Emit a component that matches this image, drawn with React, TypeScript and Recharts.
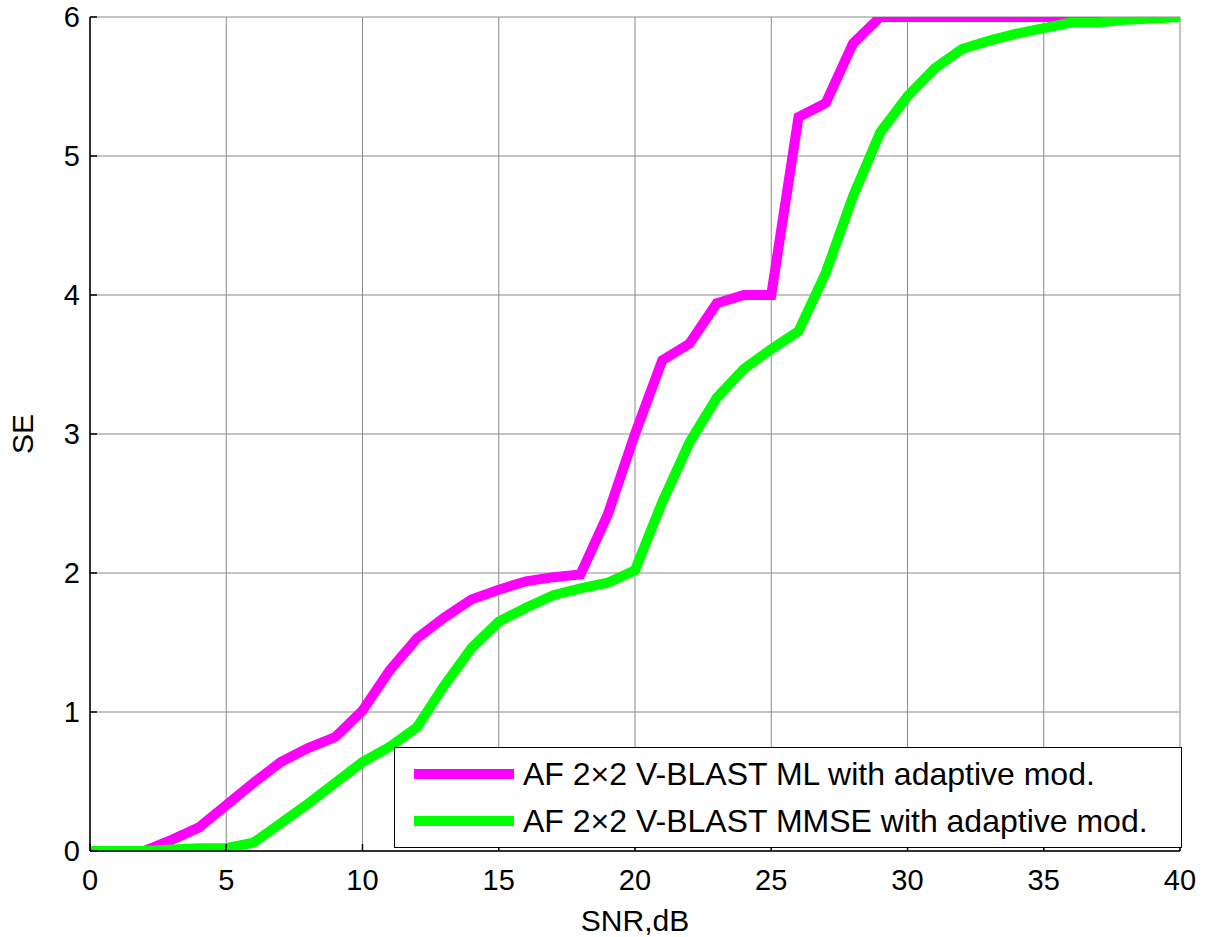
import { LineChart, Line, XAxis, YAxis, CartesianGrid } from 'recharts';

const snr = [
  0, 1, 2, 3, 4, 5, 6, 7, 8, 9, 10, 11, 12, 13, 14, 15, 16, 17, 18, 19, 20,
  21, 22, 23, 24, 25, 26, 27, 28, 29, 30, 31, 32, 33, 34, 35, 36, 37, 38, 39, 40,
];
const seML = [
  0, 0, 0, 0.08, 0.17, 0.33, 0.49, 0.64, 0.74, 0.82, 1.01, 1.3, 1.53, 1.68, 1.81, 1.88, 1.94, 1.97, 1.99, 2.42, 3.0,
  3.53, 3.65, 3.94, 4.0, 4.0, 5.28, 5.38, 5.81, 6, 6, 6, 6, 6, 6, 6, 6, 6, 6, 6, 6,
];
const seMMSE = [
  0, 0, 0, 0.01, 0.02, 0.02, 0.06, 0.2, 0.34, 0.49, 0.64, 0.75, 0.89, 1.19, 1.46, 1.65, 1.75, 1.84, 1.89, 1.93, 2.02,
  2.51, 2.94, 3.26, 3.47, 3.61, 3.74, 4.16, 4.71, 5.17, 5.43, 5.63, 5.77, 5.83, 5.88, 5.92, 5.96, 5.96, 5.98, 5.99, 6,
];
const xTicks = [0, 5, 10, 15, 20, 25, 30, 35, 40];
const yTicks = [0, 1, 2, 3, 4, 5, 6];
const seriesNames = [
  'AF 2×2 V-BLAST ML with adaptive mod.',
  'AF 2×2 V-BLAST MMSE with adaptive mod.',
];
const colors = ['#ff00ff', '#00ff00'];

const rows = snr.map((x, i) => ({ snr: x, ml: seML[i], mmse: seMMSE[i] }));

const font = '"Liberation Sans", Arial, sans-serif';
const labelStyle = { fontSize: 30, fill: '#000', fontFamily: font };
const tickText = { fontSize: '29px', fontFamily: font, fill: '#000' };
const axisLine = { stroke: '#000', strokeWidth: 1.5 };
const TICK = 7;

// matlab-style ticks: small mark inside the box, label outside
function BottomTick(props: any) {
  const { x, y, payload } = props;
  return (
    <g>
      <line x1={x} x2={x} y1={y} y2={y - TICK} stroke="#000" strokeWidth={1.5} />
      <text x={x} y={y + 39} textAnchor="middle" style={tickText}>
        {payload.value}
      </text>
    </g>
  );
}

function LeftTick(props: any) {
  const { x, y, payload } = props;
  return (
    <g>
      <line x1={x} x2={x + TICK} y1={y} y2={y} stroke="#000" strokeWidth={1.5} />
      <text x={x - 10} y={y + 10} textAnchor="end" style={tickText}>
        {payload.value}
      </text>
    </g>
  );
}

function TopTick(props: any) {
  const { x, y } = props;
  return <line x1={x} x2={x} y1={y} y2={y + TICK} stroke="#000" strokeWidth={1.5} />;
}

function RightTick(props: any) {
  const { x, y } = props;
  return <line x1={x} x2={x - TICK} y1={y} y2={y} stroke="#000" strokeWidth={1.5} />;
}

export default function App() {
  return (
    <div style={{ position: 'absolute', left: 0, top: 0, width: 1210, height: 937, background: '#fff' }}>
      <LineChart
        width={1210}
        height={937}
        data={rows}
        margin={{ top: 17, right: 30, bottom: 46, left: 30 }}
      >
        <CartesianGrid stroke="#8a8a8a" strokeWidth={1} />
        <XAxis
          dataKey="snr"
          type="number"
          domain={[0, 40]}
          ticks={xTicks}
          height={40}
          tickSize={0}
          tickMargin={0}
          tick={(p: any) => <BottomTick {...p} />}
          axisLine={axisLine}
          tickLine={false}
          label={{ value: 'SNR,dB', position: 'bottom', offset: 19, style: labelStyle }}
        />
        <XAxis
          xAxisId="top"
          orientation="top"
          dataKey="snr"
          type="number"
          domain={[0, 40]}
          ticks={xTicks}
          height={0}
          tickSize={0}
          tickMargin={0}
          tick={(p: any) => <TopTick {...p} />}
          axisLine={axisLine}
          tickLine={false}
        />
        <YAxis
          type="number"
          domain={[0, 6]}
          ticks={yTicks}
          width={60}
          allowDataOverflow
          tickSize={0}
          tickMargin={0}
          tick={(p: any) => <LeftTick {...p} />}
          axisLine={axisLine}
          tickLine={false}
          label={{ value: 'SE', angle: -90, position: 'insideLeft', offset: -8, style: { ...labelStyle, textAnchor: 'middle' } }}
        />
        <YAxis
          yAxisId="right"
          orientation="right"
          type="number"
          domain={[0, 6]}
          ticks={yTicks}
          width={0}
          tickSize={0}
          tickMargin={0}
          tick={(p: any) => <RightTick {...p} />}
          axisLine={axisLine}
          tickLine={false}
        />
        <Line
          dataKey="ml"
          name={seriesNames[0]}
          stroke={colors[0]}
          strokeWidth={10}
          dot={false}
          isAnimationActive={false}
        />
        <Line
          dataKey="mmse"
          name={seriesNames[1]}
          stroke={colors[1]}
          strokeWidth={10}
          dot={false}
          isAnimationActive={false}
        />
      </LineChart>
      <div
        style={{
          position: 'absolute',
          left: 394,
          top: 747,
          width: 786,
          height: 99,
          border: '1.5px solid #000',
          background: '#fff',
          fontFamily: font,
          fontSize: 32,
          color: '#000',
        }}
      >
        {seriesNames.map((name, i) => (
          <div
            key={name}
            style={{ position: 'absolute', left: 0, top: 7 + i * 47, height: 38, display: 'flex', alignItems: 'center', whiteSpace: 'nowrap' }}
          >
            <span style={{ display: 'inline-block', marginLeft: 19, width: 100, height: 10, background: colors[i] }} />
            <span style={{ marginLeft: 9 }}>{name}</span>
          </div>
        ))}
      </div>
    </div>
  );
}
